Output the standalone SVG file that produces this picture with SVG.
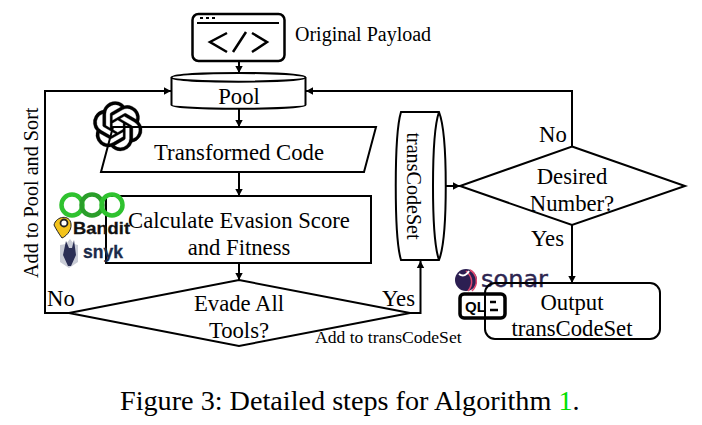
<svg xmlns="http://www.w3.org/2000/svg" width="702" height="425" viewBox="0 0 702 425">
<style>
text{font-family:"Liberation Serif","Times New Roman",serif;fill:#000}
.t{font-size:22.700px;text-anchor:middle}
.l{font-size:22.700px}
.s{fill:#fff;stroke:#000;stroke-width:2}
.c{fill:none;stroke:#000;stroke-width:2}
.b{font-family:"Liberation Sans",Arial,sans-serif;font-weight:700}
</style>
<defs>
<marker id="a" markerUnits="userSpaceOnUse" markerWidth="9" markerHeight="9" refX="8" refY="4.5" orient="auto"><path d="M1 .8L8 4.5L1 8.2Z" fill="#000"/></marker>
</defs>
<rect width="702" height="425" fill="#fff"/>
<g id="connectors">
<path class="c" d="M239 61V73" marker-end="url(#a)"/>
<path class="c" d="M239 108V127" marker-end="url(#a)"/>
<path class="c" d="M239 172V196" marker-end="url(#a)"/>
<path class="c" d="M239 263V280" marker-end="url(#a)"/>
<path class="c" d="M69 313H45V91H171" marker-end="url(#a)"/>
<path class="c" d="M410 313H420.500V261" marker-end="url(#a)"/>
<path class="c" d="M445 186H460" marker-end="url(#a)"/>
<path class="c" d="M572 146V91H306" marker-end="url(#a)"/>
<path class="c" d="M572 225V283" marker-end="url(#a)"/>
</g>
<g id="payload">
<rect x="192.500" y="14" width="92" height="47" rx="6" fill="#fff" stroke="#000" stroke-width="2.500"/>
<path class="c" d="M197 23H279"/>
<path d="M200 18h3M206 18h3M212 18h3" class="c" stroke-width="1.500"/>
<path d="M227 33L210 42L227 52M246 32L233 52M252 33L267 42L252 52" fill="none" stroke="#000" stroke-width="2.500"/>
<text x="295" y="40.500" style="font-size:20px">Original Payload</text>
</g>
<g id="pool">
<path class="s" d="M171.500 77.500C171.500 71.500 305.500 71.500 305.500 77.500V105C305.500 110 171.500 110 171.500 105Z"/>
<path class="c" d="M171.500 77.500C171.500 83 305.500 83 305.500 77.500"/>
<text class="t" x="239" y="104">Pool</text>
</g>
<g id="transformed">
<path class="s" d="M113 127H376L364 172H101Z"/>
<text class="t" x="239" y="160">Transformed Code</text>
<path fill="#000" stroke="#000" stroke-width=".15" transform="translate(93 101.500) scale(2.060)" d="M22.2819 9.8211a5.9847 5.9847 0 0 0-.5157-4.9108 6.0462 6.0462 0 0 0-6.5098-2.9A6.0651 6.0651 0 0 0 4.9807 4.1818a5.9847 5.9847 0 0 0-3.9977 2.9 6.0462 6.0462 0 0 0 .7427 7.0966 5.98 5.98 0 0 0 .511 4.9107 6.051 6.051 0 0 0 6.5146 2.9001A5.9847 5.9847 0 0 0 13.2599 24a6.0557 6.0557 0 0 0 5.7718-4.2058 5.9894 5.9894 0 0 0 3.9977-2.9001 6.0557 6.0557 0 0 0-.7475-7.0729zm-9.022 12.6081a4.4755 4.4755 0 0 1-2.8764-1.0408l.1419-.0804 4.7783-2.7582a.7948.7948 0 0 0 .3927-.6813v-6.7369l2.02 1.1686a.071.071 0 0 1 .038.052v5.5826a4.504 4.504 0 0 1-4.4945 4.4944zm-9.6607-4.1254a4.4708 4.4708 0 0 1-.5346-3.0137l.142.0852 4.783 2.7582a.7712.7712 0 0 0 .7806 0l5.8428-3.3685v2.3324a.0804.0804 0 0 1-.0332.0615L9.74 19.9502a4.4992 4.4992 0 0 1-6.1408-1.6464zM2.3408 7.8956a4.485 4.485 0 0 1 2.3655-1.9728V11.6a.7664.7664 0 0 0 .3879.6765l5.8144 3.3543-2.0201 1.1685a.0757.0757 0 0 1-.071 0l-4.8303-2.7865A4.504 4.504 0 0 1 2.3408 7.872zm16.5963 3.8558L13.1038 8.364 15.1192 7.2a.0757.0757 0 0 1 .071 0l4.8303 2.7913a4.4944 4.4944 0 0 1-.6765 8.1042v-5.6772a.79.79 0 0 0-.407-.667zm2.0107-3.0231l-.142-.0852-4.7735-2.7818a.7759.7759 0 0 0-.7854 0L9.409 9.2297V6.8974a.0662.0662 0 0 1 .0284-.0615l4.8303-2.7866a4.4992 4.4992 0 0 1 6.6802 4.66zM8.3065 12.863l-2.02-1.1638a.0804.0804 0 0 1-.038-.0567V6.0742a4.4992 4.4992 0 0 1 7.3757-3.4537l-.142.0805L8.704 5.459a.7948.7948 0 0 0-.3927.6813zm1.0976-2.3654l2.602-1.4998 2.6069 1.4998v2.9994l-2.5974 1.4997-2.6067-1.4997Z"/>
</g>
<g id="evaluate">
<rect class="s" x="106" y="196" width="265" height="67"/>
<g fill="none" stroke-width="4.500"><circle cx="72" cy="205" r="10.500" stroke="#2fc22f"/><circle cx="92" cy="205" r="10.500" stroke="#2a9e2a"/><circle cx="112" cy="205" r="10.500" stroke="#2fc22f"/></g>
<path d="M54 225C56 216 70 214 71 224C72 231 65 237 62 238C59 234 56 229 54 225Z" fill="#f3c31c" stroke="#222" stroke-width="1"/>
<circle cx="64" cy="223" r="3.500" fill="#fff" stroke="#222" stroke-width="1.800"/>
<text class="b" x="73" y="234" textLength="57" lengthAdjust="spacingAndGlyphs" style="font-size:17px;fill:#111;stroke:#111;stroke-width:.3">Bandit</text>
<path d="M60 245L66 244L70 239L74 244L78 245V262L69 268L60 262Z" fill="#c9ccd6"/>
<path d="M66 241L69 248L72 248L74 240L76 255L71 266H68L63 255Z" fill="#2b2f55"/>
<text class="b" x="83" y="258" textLength="40" lengthAdjust="spacingAndGlyphs" style="font-size:18px;fill:#1c2b4a;stroke:#1c2b4a;stroke-width:.3">snyk</text>
<text class="t" x="239" y="228">Calculate Evasion Score</text>
<text class="t" x="239" y="255">and Fitness</text>
</g>
<g id="evade">
<path class="s" d="M239 280L410 313L239 346L69 313Z"/>
<text class="t" x="239" y="311">Evade All</text>
<text class="t" x="239" y="338">Tools?</text>
</g>
<g id="transcodeset">
<path class="s" d="M401 112H439C448 135 448 237 439 260H401C394 237 394 135 401 112Z"/>
<path class="c" d="M439 112C431 135 431 237 439 260"/>
<text class="t" transform="translate(407 186) rotate(90)" style="font-size:20.100px">transCodeSet</text>
</g>
<g id="desired">
<path class="s" d="M572 146.500L685 186L572 225L460 186Z"/>
<text class="t" x="572" y="184">Desired</text>
<text class="t" x="572" y="211">Number?</text>
</g>
<g id="output">
<circle cx="466" cy="280" r="11" fill="#2c1f52"/>
<path d="M470 270C477 274 479 284 472 291M466 271C472 276 474 284 468 291" fill="none" stroke="#e0486f" stroke-width="1.500"/>
<path d="M459 274C463 277 467 275 469 271" fill="none" stroke="#fff" stroke-width="2"/>
<text x="481" y="287" textLength="67" lengthAdjust="spacingAndGlyphs" style="font-family:'DejaVu Sans',sans-serif;font-size:23px;fill:#2d2550;stroke:#2d2550;stroke-width:.4">sonar</text>
<rect x="460" y="294" width="45" height="24" rx="4" fill="#fff" stroke="#000" stroke-width="3.500"/>
<text class="b" x="465" y="312" style="font-size:15px">QL</text>
<path d="M490 302H496M490 310H498" stroke="#000" stroke-width="2.500" fill="none"/>
<rect x="485" y="283" width="175" height="56" rx="10" fill="none" stroke="#000" stroke-width="2"/>
<text class="t" x="572" y="310">Output</text>
<text class="t" x="572" y="336">transCodeSet</text>
</g>
<g id="labels">
<text class="l" x="47" y="306">No</text>
<text class="l" x="382" y="306">Yes</text>
<text x="315" y="342.500" style="font-size:17.600px">Add to transCodeSet</text>
<text class="l" x="539" y="142">No</text>
<text class="l" x="531" y="245.500">Yes</text>
<text transform="translate(38 278) rotate(-90)" style="font-size:20.200px">Add to Pool and Sort</text>
</g>
<text id="caption" x="120" y="409.500" style="font-size:28.200px">Figure 3: Detailed steps for Algorithm <tspan style="fill:#00e000">1</tspan>.</text>
</svg>
